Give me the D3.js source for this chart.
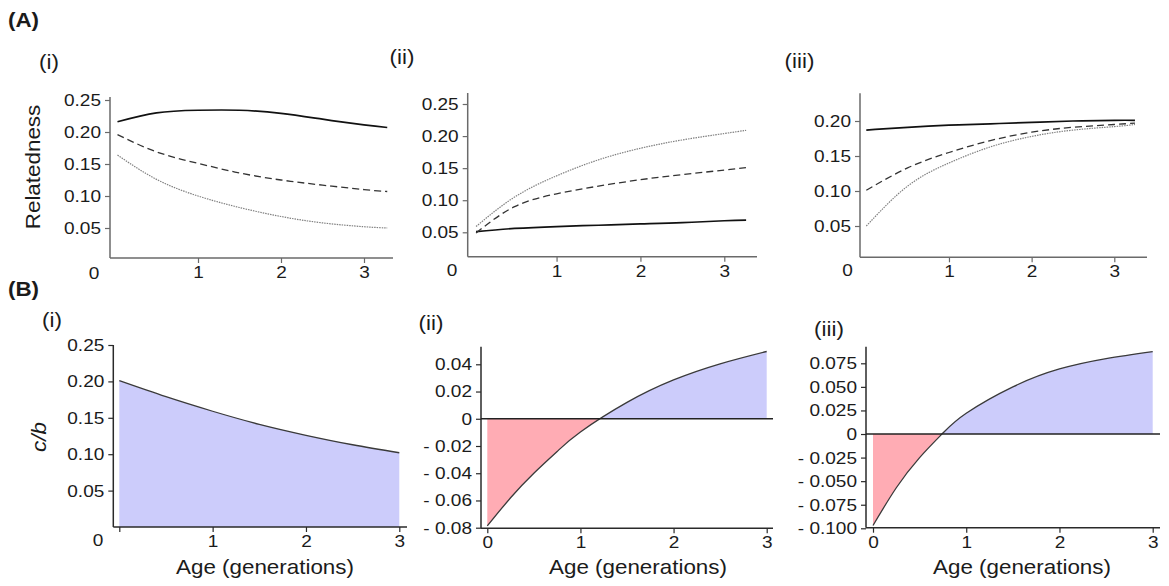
<!DOCTYPE html>
<html>
<head>
<meta charset="utf-8">
<script src="https://cdn.jsdelivr.net/npm/d3@7"></script>
<style>
body { margin: 0; background: #fff; }
text { font-family: "Liberation Sans", Arial, sans-serif; fill: #1b1b1b; }
</style>
</head>
<body>
<svg id="fig" width="1169" height="586"></svg>
<script>
// ---- data ----
// (A) relatedness vs age, three scenarios, three lines each
var ageAi   = [0.03, 0.5, 1, 1.5, 2, 2.5, 3, 3.28];
var aiSolid = [0.216, 0.230, 0.234, 0.234, 0.229, 0.220, 0.211, 0.207];
var aiDash  = [0.196, 0.169, 0.151, 0.136, 0.125, 0.117, 0.110, 0.107];
var aiDot   = [0.164, 0.126, 0.100, 0.082, 0.068, 0.058, 0.052, 0.050];

var ageAii   = [0.04, 0.5, 1, 1.5, 2, 2.5, 3, 3.26];
var aiiSolid = [0.051, 0.056, 0.059, 0.061, 0.063, 0.065, 0.068, 0.069];
var aiiDash  = [0.049, 0.090, 0.110, 0.122, 0.132, 0.140, 0.147, 0.151];
var aiiDot   = [0.059, 0.105, 0.138, 0.163, 0.181, 0.194, 0.204, 0.209];

var ageAiii   = [0, 0.5, 1, 1.5, 2, 2.5, 3, 3.25];
var aiiiSolid = [0.187, 0.191, 0.194, 0.196, 0.198, 0.200, 0.201, 0.201];
var aiiiDash  = [0.101, 0.133, 0.155, 0.172, 0.184, 0.191, 0.195, 0.197];
var aiiiDot   = [0.050, 0.107, 0.140, 0.163, 0.178, 0.187, 0.192, 0.195];

// (B) c/b threshold vs age
var ageBi = [0, 0.5, 1, 1.5, 2, 2.5, 3];
var cbBi  = [0.201, 0.179, 0.159, 0.141, 0.126, 0.113, 0.102];

var ageBii = [0, 0.25, 0.5, 0.75, 1, 1.5, 2, 2.5, 3];
var cbBii  = [-0.0787, -0.058, -0.040, -0.024, -0.0097, 0.0120, 0.0285, 0.0403, 0.0494];

var ageBiii = [0, 0.25, 0.5, 0.75, 1, 1.5, 2, 2.5, 3];
var cbBiii  = [-0.097, -0.057, -0.025, 0.001, 0.022, 0.050, 0.069, 0.080, 0.0875];

// tick labels
var xTicksA = [1, 2, 3];
var xTicksB = [0, 1, 2, 3];
var yTicksA  = [0.05, 0.10, 0.15, 0.20, 0.25];
var yTicksA3 = [0.05, 0.10, 0.15, 0.20];
var yTicksBi   = [0.05, 0.10, 0.15, 0.20, 0.25];
var yTicksBii  = [-0.08, -0.06, -0.04, -0.02, 0, 0.02, 0.04];
var yTicksBiii = [-0.100, -0.075, -0.050, -0.025, 0, 0.025, 0.050, 0.075];

var svg = d3.select("#fig");
var K = 1.12; // the original lettering is a little wider than Liberation Sans

function label(x, y, str, size, opts) {
  opts = opts || {};
  var t = svg.append("text")
    .attr("transform", "translate(" + x + "," + y + ")" + (opts.rotate ? " rotate(" + opts.rotate + ")" : "") + " scale(" + K + ",1)")
    .attr("text-anchor", opts.anchor || "middle")
    .attr("dy", opts.dy == null ? "0.35em" : opts.dy)
    .style("font-size", size + "px")
    .text(str);
  if (opts.bold) t.style("font-weight", "bold");
  if (opts.italic) t.style("font-style", "italic");
  return t;
}

function signed(fmt) {
  return function(d) {
    if (d === 0) return "0";
    return d < 0 ? "- " + fmt(-d) : fmt(d);
  };
}

function panel(o) {
  var g = svg.append("g");
  var x = d3.scaleLinear().domain([0, 3]).range(o.xr);
  var y = d3.scaleLinear().domain(o.yd).range(o.yr);

  var ya = d3.axisLeft(y).tickValues(o.yt).tickFormat(o.yf)
    .tickSize(5).tickPadding(4).tickSizeOuter(0);
  var gy = g.append("g").attr("transform", "translate(" + o.ax + ",0)").call(ya);
  var xa = d3.axisBottom(x).tickValues(o.xt).tickFormat(o.xf || d3.format("d"))
    .tickSize(5).tickPadding(3).tickSizeOuter(0);
  var gx = g.append("g").attr("transform", "translate(0," + o.ay + ")").call(xa);

  [gy, gx].forEach(function(a) {
    a.select(".domain").remove();
    a.attr("font-size", null).attr("font-family", null);
    a.selectAll("line").attr("stroke", o.axisColor).attr("stroke-width", 1.2);
    a.selectAll("text").style("font-size", "17px").attr("transform", "scale(" + K + ",1)");
  });
  gy.selectAll("text").attr("x", -9 / K);

  g.append("line").attr("x1", o.ax).attr("x2", o.ax).attr("y1", o.top).attr("y2", o.ay)
    .attr("stroke", o.axisColor).attr("stroke-width", 1.5);
  g.append("line").attr("x1", o.ax).attr("x2", o.right).attr("y1", o.ay).attr("y2", o.ay)
    .attr("stroke", o.axisColor).attr("stroke-width", 1.5);

  if (o.zero) label(o.zero[0], o.zero[1], "0", 17);
  label(o.tag[0], o.tag[1], o.tagText, 20);
  return { g: g, x: x, y: y };
}

function relatedness(p, ages, sets) {
  var styles = [
    { stroke: "#111", w: 1.7, dash: null },
    { stroke: "#333", w: 1.3, dash: "7,4" },
    { stroke: "#808080", w: 1.2, dash: "1.5,1" }
  ];
  sets.forEach(function(vals, i) {
    var line = d3.line().curve(d3.curveNatural)
      .x(function(d, k) { return p.x(ages[k]); })
      .y(function(d) { return p.y(d); });
    p.g.append("path").datum(vals).attr("d", line).attr("fill", "none")
      .attr("stroke", styles[i].stroke).attr("stroke-width", styles[i].w)
      .attr("stroke-dasharray", styles[i].dash);
  });
}

function costBenefit(p, ages, vals, id, o) {
  var pts = ages.map(function(a, k) { return { a: a, v: vals[k] }; });
  var y0 = p.y(0);
  var defs = p.g.append("defs");
  defs.append("clipPath").attr("id", id + "up").append("rect")
    .attr("x", 0).attr("y", 0).attr("width", 1169).attr("height", y0);
  defs.append("clipPath").attr("id", id + "dn").append("rect")
    .attr("x", 0).attr("y", y0).attr("width", 1169).attr("height", 586 - y0);

  var area = d3.area().curve(d3.curveNatural)
    .x(function(d) { return p.x(d.a); })
    .y0(y0)
    .y1(function(d) { return p.y(d.v); });
  p.g.insert("path", ":first-child").datum(pts).attr("d", area)
    .attr("fill", "#ccccfb").attr("clip-path", "url(#" + id + "up)");
  p.g.insert("path", ":first-child").datum(pts).attr("d", area)
    .attr("fill", "#ffacb4").attr("clip-path", "url(#" + id + "dn)");

  var line = d3.line().curve(d3.curveNatural)
    .x(function(d) { return p.x(d.a); })
    .y(function(d) { return p.y(d.v); });
  p.g.append("path").datum(pts).attr("d", line).attr("fill", "none")
    .attr("stroke", "#3a3a3a").attr("stroke-width", 1.3);

  if (o.zeroLine) {
    p.g.append("line").attr("x1", o.ax).attr("x2", o.right).attr("y1", y0).attr("y2", y0)
      .attr("stroke", "#222").attr("stroke-width", 1.4);
  }
  label(o.title[0], o.title[1], "Age (generations)", 20);
}

var f2 = d3.format(".2f"), f3 = d3.format(".3f");

// ---- row A ----
var oAi = { xr: [115, 364], yd: [0.05, 0.25], yr: [228, 100], ax: 110, ay: 258, top: 97, right: 393,
  yt: yTicksA, yf: f2, xt: xTicksA, axisColor: "#6a6a6a", zero: [94, 273], tag: [49, 62], tagText: "(i)" };
var pAi = panel(oAi);
relatedness(pAi, ageAi, [aiSolid, aiDash, aiDot]);

var oAii = { xr: [472.7, 724.3], yd: [0.05, 0.25], yr: [232.3, 104], ax: 467.7, ay: 256.7, top: 93, right: 757,
  yt: yTicksA, yf: f2, xt: xTicksA, axisColor: "#6a6a6a", zero: [452, 270], tag: [402, 57], tagText: "(ii)" };
var pAii = panel(oAii);
relatedness(pAii, ageAii, [aiiSolid, aiiDash, aiiDot]);

var oAiii = { xr: [866.3, 1114.3], yd: [0.05, 0.20], yr: [226, 121], ax: 860, ay: 257.3, top: 93.3, right: 1147,
  yt: yTicksA3, yf: f2, xt: xTicksA, axisColor: "#6a6a6a", zero: [847.5, 270], tag: [799.5, 61], tagText: "(iii)" };
var pAiii = panel(oAiii);
relatedness(pAiii, ageAiii, [aiiiSolid, aiiiDash, aiiiDot]);

// ---- row B ----
var oBi = { xr: [119.3, 399.3], yd: [0, 0.25], yr: [527, 345], ax: 113.3, ay: 527, top: 345, right: 407,
  yt: yTicksBi, yf: f2, xt: xTicksB, xf: function(d) { return d === 0 ? "" : d; },
  axisColor: "#2a2a2a", zero: [98, 540], tag: [52, 320], tagText: "(i)", title: [265, 567] };
var pBi = panel(oBi);
costBenefit(pBi, ageBi, cbBi, "bi", oBi);

var oBii = { xr: [487.3, 766.7], yd: [-0.08, 0.04], yr: [527.7, 364.3], ax: 481, ay: 528.3, top: 346.7, right: 773,
  yt: yTicksBii, yf: signed(f2), xt: xTicksB, axisColor: "#2a2a2a", tag: [431, 323], tagText: "(ii)",
  title: [638, 567], zeroLine: true };
var pBii = panel(oBii);
costBenefit(pBii, ageBii, cbBii, "bii", oBii);

var oBiii = { xr: [873, 1152.7], yd: [-0.1, 0.075], yr: [528.3, 363.3], ax: 866, ay: 527.7, top: 346.7, right: 1160,
  yt: yTicksBiii, yf: signed(f3), xt: xTicksB, axisColor: "#2a2a2a", tag: [829, 329], tagText: "(iii)",
  title: [1022, 567], zeroLine: true };
var pBiii = panel(oBiii);
costBenefit(pBiii, ageBiii, cbBiii, "biii", oBiii);

// ---- figure labels ----
label(8, 27, "(A)", 20, { anchor: "start", dy: 0, bold: true });
label(8, 296, "(B)", 20, { anchor: "start", dy: 0, bold: true });
label(33, 167, "Relatedness", 20, { rotate: -90 });
label(39, 437, "c/b", 20, { rotate: -90, italic: true });
</script>
</body>
</html>
